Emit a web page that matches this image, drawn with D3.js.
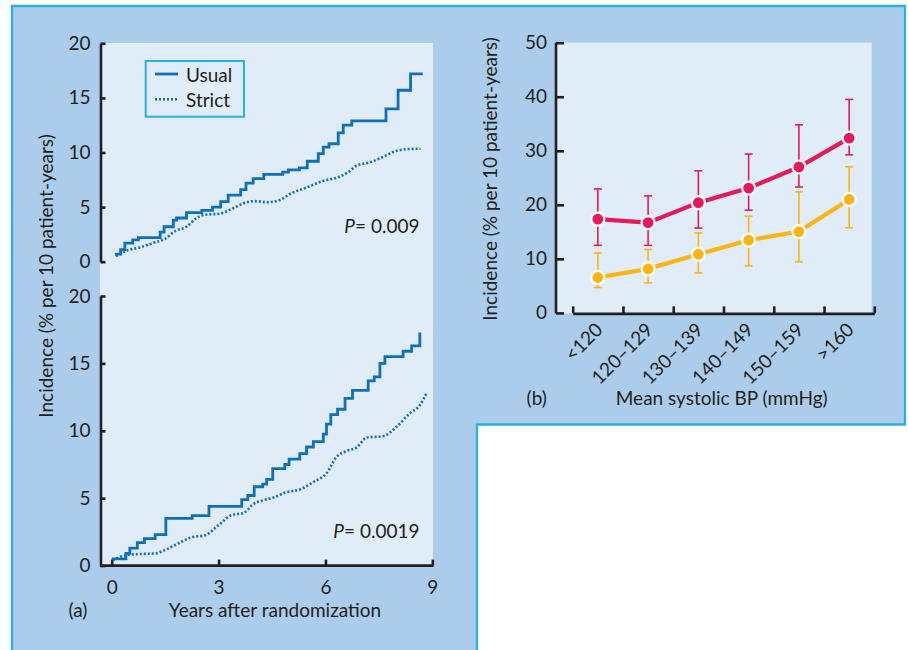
<!DOCTYPE html>
<html>
<head>
<meta charset="utf-8">
<script src="https://cdn.jsdelivr.net/npm/d3@7"></script>
<style>
  html, body { margin: 0; padding: 0; background: #ffffff; }
  svg { display: block; }
  text { font-family: Lato, "Noto Sans", sans-serif; fill: #231f20; }
</style>
</head>
<body>
<svg id="chart" width="908" height="650"></svg>
<script>
// ---- Panel (a): cumulative incidence, step curves [years, % per 10 patient-years]
const usualTop = [
  [0.09, 0.7], [0.25, 1.1], [0.37, 1.7], [0.59, 2.0], [0.75, 2.2], [1.36, 2.7],
  [1.47, 3.2], [1.73, 3.8], [1.82, 4.0], [2.10, 4.5], [2.53, 4.7], [2.83, 5.0],
  [3.06, 5.5], [3.27, 6.1], [3.62, 6.6], [3.77, 7.2], [3.97, 7.6], [4.27, 8.0],
  [4.80, 8.2], [4.96, 8.4], [5.27, 8.6], [5.49, 9.2], [5.80, 9.9], [5.94, 10.5],
  [6.10, 10.8], [6.36, 11.8], [6.50, 12.5], [6.74, 12.9], [7.70, 14.0], [8.04, 15.7],
  [8.39, 17.2], [8.73, 17.2]
];
const strictTop = [
  [0.12, 0.5], [0.40, 1.0], [0.78, 1.3], [1.15, 1.7], [1.50, 2.1], [1.78, 2.8],
  [2.10, 3.2], [2.38, 4.0], [2.62, 4.3], [3.04, 4.4], [3.41, 4.9], [3.74, 5.4],
  [4.02, 5.55], [4.35, 5.45], [4.72, 5.65], [5.00, 6.2], [5.47, 6.8], [5.94, 7.4],
  [6.41, 7.8], [6.64, 8.2], [6.88, 8.8], [7.25, 9.1], [7.62, 9.6], [7.95, 10.1],
  [8.28, 10.3], [8.67, 10.35]
];
const usualBottom = [
  [0.00, 0.5], [0.40, 0.9], [0.51, 1.3], [0.72, 1.7], [0.92, 2.0], [1.22, 2.3],
  [1.52, 3.5], [2.26, 3.7], [2.73, 4.4], [3.65, 4.9], [3.82, 5.2], [4.00, 5.85],
  [4.24, 6.05], [4.35, 6.4], [4.52, 7.2], [4.86, 7.5], [4.98, 7.9], [5.28, 8.3],
  [5.47, 8.8], [5.66, 9.2], [5.94, 9.75], [6.03, 10.5], [6.15, 11.2], [6.34, 11.6],
  [6.55, 12.4], [6.76, 13.0], [7.20, 13.7], [7.37, 14.0], [7.53, 15.0], [7.67, 15.5],
  [8.18, 15.9], [8.42, 16.3], [8.65, 17.3]
];
const strictBottom = [
  [0.03, 0.4], [0.46, 0.8], [0.74, 0.85], [1.21, 0.9], [1.49, 1.15], [1.87, 1.65],
  [2.24, 2.1], [2.62, 2.25], [3.00, 3.0], [3.37, 3.75], [3.70, 3.9], [3.97, 4.55],
  [4.26, 4.85], [4.54, 5.05], [4.91, 5.45], [5.28, 5.65], [5.66, 6.2], [6.03, 6.85],
  [6.31, 8.05], [6.59, 8.5], [6.87, 8.75], [7.16, 9.5], [7.62, 9.6], [8.00, 10.3],
  [8.37, 11.3], [8.65, 11.9], [8.84, 12.8]
];
const yearTicks = [0, 3, 6, 9];
const incidenceTicksA = [0, 5, 10, 15, 20];
const pValues = ["0.009", "0.0019"];
const seriesNamesA = ["Usual", "Strict"];

// ---- Panel (b): incidence by mean systolic BP
const bpCategories = ["<120", "120\u2013129", "130\u2013139", "140\u2013149", "150\u2013159", ">160"];
const redMean  = [17.35, 16.7, 20.4, 23.1, 27.0, 32.35];
const redLow   = [12.5, 12.5, 15.7, 19.0, 23.3, 29.25];
const redHigh  = [22.95, 21.65, 26.3, 29.4, 34.8, 39.5];
const yellowMean = [6.55, 8.15, 10.85, 13.45, 15.05, 21.0];
const yellowLow  = [4.7, 5.55, 7.4, 8.7, 9.45, 15.75];
const yellowHigh = [11.1, 11.75, 14.8, 17.9, 22.4, 27.05];
const incidenceTicksB = [0, 10, 20, 30, 40, 50];

// ---- palette
const C = {
  panel: "#abcdeb",
  border: "#27b2e6",
  plot: "#e0ecf8",
  ink: "#231f20",
  blue: "#0f6fba",
  red: "#e6195a",
  yellow: "#fcb415"
};
const FS = 19;

const svg = d3.select("#chart");

// L-shaped framed background
svg.append("path")
  .attr("d", "M12,652 V6 H905 V424.5 H477 V652")
  .attr("fill", C.panel)
  .attr("stroke", C.border)
  .attr("stroke-width", 2.3);

/* ============ Panel (a) ============ */
const xA = d3.scaleLinear([0, 9], [111.7, 432.3]);
const yTop = d3.scaleLinear([0, 20], [261.7, 43.3]);
const yBot = d3.scaleLinear([0, 20], [565.6, 296]);

svg.append("rect")
  .attr("x", 100).attr("y", 43)
  .attr("width", 333).attr("height", 523)
  .attr("fill", C.plot);

function styleAxis(g) {
  g.select(".domain").attr("stroke", C.ink).attr("stroke-width", 2.6);
  g.selectAll(".tick line").attr("stroke", C.ink).attr("stroke-width", 2.6);
  g.selectAll(".tick text")
    .attr("fill", C.ink)
    .style("font-family", "Lato, 'Noto Sans', sans-serif")
    .style("font-size", FS + "px");
}

// left axes of the two stacked plots
[yTop, yBot].forEach(y => {
  svg.append("g")
    .attr("transform", "translate(100.5,0)")
    .call(d3.axisLeft(y).tickValues(incidenceTicksA).tickSize(-5).tickSizeOuter(0).tickPadding(10))
    .call(styleAxis);
});

// bottom (years) axis
const gxA = svg.append("g")
  .attr("transform", `translate(0,${yBot(0)})`)
  .call(d3.axisBottom(xA).tickValues(yearTicks).tickSize(-6).tickSizeOuter(0))
  .call(styleAxis);
gxA.select(".domain").remove();
gxA.selectAll(".tick text").attr("y", 28).attr("dy", 0);
svg.append("line")
  .attr("x1", 100).attr("x2", 433.5)
  .attr("y1", yBot(0)).attr("y2", yBot(0))
  .attr("stroke", C.ink).attr("stroke-width", 2.6);

// curves
const stepLine = y => d3.line().x(d => xA(d[0])).y(d => y(d[1])).curve(d3.curveStepAfter);
const smoothLine = y => d3.line().x(d => xA(d[0])).y(d => y(d[1])).curve(d3.curveMonotoneX);

function drawUsual(data, y) {
  svg.append("path").datum(data)
    .attr("d", stepLine(y))
    .attr("fill", "none").attr("stroke", C.blue)
    .attr("stroke-width", 2.8).attr("stroke-linejoin", "miter");
}
function drawStrict(data, y) {
  svg.append("path").datum(data)
    .attr("d", smoothLine(y))
    .attr("fill", "none").attr("stroke", C.blue)
    .attr("stroke-width", 2.6).attr("stroke-dasharray", "2,2");
}
drawStrict(strictTop, yTop);
drawUsual(usualTop, yTop);
drawStrict(strictBottom, yBot);
drawUsual(usualBottom, yBot);

// P values
[233, 538].forEach((yPos, i) => {
  const t = svg.append("text")
    .attr("x", 419.5).attr("y", yPos)
    .attr("text-anchor", "end")
    .style("font-size", FS + "px");
  t.append("tspan").style("font-style", "italic").text("P");
  t.append("tspan").text("= " + pValues[i]);
});

// legend
const lg = svg.append("g");
lg.append("rect")
  .attr("x", 145.7).attr("y", 61)
  .attr("width", 98.3).attr("height", 55.7)
  .attr("fill", C.plot).attr("stroke", C.border).attr("stroke-width", 2);
lg.append("line")
  .attr("x1", 155).attr("x2", 178).attr("y1", 74).attr("y2", 74)
  .attr("stroke", C.blue).attr("stroke-width", 2.8);
lg.append("line")
  .attr("x1", 155).attr("x2", 178).attr("y1", 99.3).attr("y2", 99.3)
  .attr("stroke", C.blue).attr("stroke-width", 2.6).attr("stroke-dasharray", "2,2");
lg.append("text").attr("x", 186).attr("y", 81.5).style("font-size", FS + "px").text(seriesNamesA[0]);
lg.append("text").attr("x", 186).attr("y", 106.5).style("font-size", FS + "px").text(seriesNamesA[1]);

// axis titles
svg.append("text")
  .attr("transform", "translate(53,276) rotate(-90)")
  .attr("text-anchor", "middle")
  .style("font-size", FS + "px")
  .text("Incidence (% per 10 patient-years)");
svg.append("text")
  .attr("x", 275).attr("y", 616.5)
  .attr("text-anchor", "middle")
  .style("font-size", FS + "px")
  .text("Years after randomization");
svg.append("text")
  .attr("x", 78).attr("y", 616.5)
  .attr("text-anchor", "middle")
  .style("font-size", FS + "px")
  .text("(a)");

/* ============ Panel (b) ============ */
const xB = d3.scaleBand(bpCategories, [572.7, 874.3]);
const xEdge = d3.scaleLinear([0, bpCategories.length], xB.range());
const yB = d3.scaleLinear([0, 50], [312.9, 42.7]);
const cx = c => xB(c) + xB.bandwidth() / 2;

svg.append("rect")
  .attr("x", 556.7).attr("y", 42.7)
  .attr("width", 315).attr("height", 270.6)
  .attr("fill", C.plot);

svg.append("g")
  .attr("transform", "translate(556,0)")
  .call(d3.axisLeft(yB).tickValues(incidenceTicksB).tickSize(-8).tickSizeOuter(0).tickPadding(9))
  .call(styleAxis)
  .call(g => g.select(".domain").attr("d", `M0,${yB(0) + 0.5}V${yB(50)}`));

svg.append("g")
  .attr("transform", `translate(0,${yB(0) + 0.5})`)
  .call(d3.axisBottom(xEdge).tickValues(d3.range(bpCategories.length + 1)).tickSize(-7).tickSizeOuter(0).tickFormat(""))
  .call(styleAxis);

// rotated category labels
svg.append("g").selectAll("text")
  .data(bpCategories)
  .join("text")
  .attr("text-anchor", "end")
  .attr("transform", d => `translate(${cx(d) + 6},${331}) rotate(-45)`)
  .style("font-size", FS + "px")
  .text(d => d);

function drawSeries(mean, low, high, color) {
  const g = svg.append("g");
  const rows = bpCategories.map((c, i) => ({ c, m: mean[i], lo: low[i], hi: high[i] }));
  // error bars
  const eb = g.selectAll(".eb").data(rows).join("g");
  eb.append("line")
    .attr("x1", d => cx(d.c)).attr("x2", d => cx(d.c))
    .attr("y1", d => yB(d.lo)).attr("y2", d => yB(d.hi))
    .attr("stroke", color).attr("stroke-width", 1.6);
  ["lo", "hi"].forEach(k => {
    eb.append("line")
      .attr("x1", d => cx(d.c) - 4).attr("x2", d => cx(d.c) + 4)
      .attr("y1", d => yB(d[k])).attr("y2", d => yB(d[k]))
      .attr("stroke", color).attr("stroke-width", 1.6);
  });
  // connecting line
  g.append("path").datum(rows)
    .attr("d", d3.line().x(d => cx(d.c)).y(d => yB(d.m)))
    .attr("fill", "none").attr("stroke", color).attr("stroke-width", 4.2);
  // markers
  g.selectAll("circle").data(rows).join("circle")
    .attr("cx", d => cx(d.c)).attr("cy", d => yB(d.m))
    .attr("r", 6.5)
    .attr("fill", color).attr("stroke", "#ffffff").attr("stroke-width", 2.2);
}
drawSeries(yellowMean, yellowLow, yellowHigh, C.yellow);
drawSeries(redMean, redLow, redHigh, C.red);

svg.append("text")
  .attr("transform", "translate(497,179) rotate(-90)")
  .attr("text-anchor", "middle")
  .style("font-size", FS + "px")
  .text("Incidence (% per 10 patient-years)");
svg.append("text")
  .attr("x", 721.7).attr("y", 405)
  .attr("text-anchor", "middle")
  .style("font-size", FS + "px")
  .text("Mean systolic BP (mmHg)");
svg.append("text")
  .attr("x", 536.7).attr("y", 405)
  .attr("text-anchor", "middle")
  .style("font-size", FS + "px")
  .text("(b)");
</script>
</body>
</html>
